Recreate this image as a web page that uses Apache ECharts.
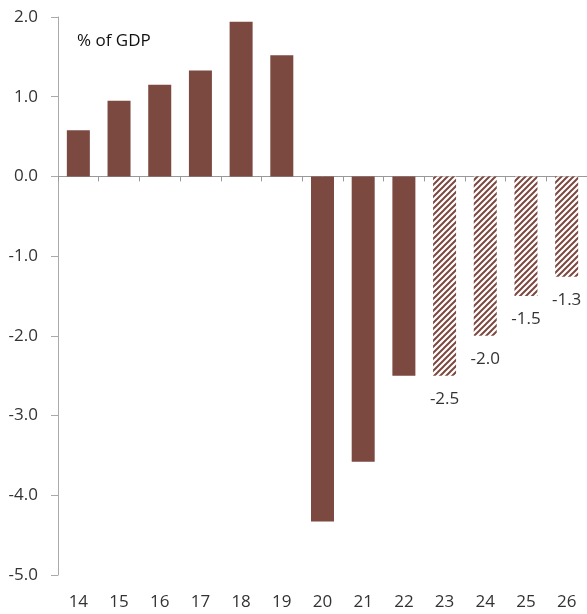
<!DOCTYPE html>
<html>
<head>
<meta charset="utf-8">
<script src="https://cdn.jsdelivr.net/npm/echarts@6/dist/echarts.min.js"></script>
<style>
  html, body { margin: 0; padding: 0; background: #fff; }
  #chart { width: 587px; height: 614px; }
</style>
</head>
<body>
<div id="chart"></div>
<script>
var years = ['14', '15', '16', '17', '18', '19', '20', '21', '22', '23', '24', '25', '26'];
var balance = [0.58, 0.95, 1.15, 1.33, 1.94, 1.52, -4.33, -3.58, -2.5, -2.5, -2.0, -1.5, -1.26];
var forecastFrom = 9; // 23 onward are projections
var yTicks = [2, 1, 0, -1, -2, -3, -4, -5];

var barColor = '#7b4940';

// diagonal hatch for projection bars
function hatch() {
    var c = document.createElement('canvas');
    c.width = 6;
    c.height = 6;
    var ctx = c.getContext('2d');
    ctx.fillStyle = '#fff';
    ctx.fillRect(0, 0, 6, 6);
    ctx.strokeStyle = barColor;
    ctx.lineWidth = 2;
    ctx.beginPath();
    ctx.moveTo(-1, 7); ctx.lineTo(7, -1);
    ctx.moveTo(-4, 4); ctx.lineTo(4, -4);
    ctx.moveTo(2, 10); ctx.lineTo(10, 2);
    ctx.stroke();
    return c;
}
var pattern = { image: hatch(), repeat: 'repeat' };

var data_json = [];
balance.forEach(function (v, i) {
    var item = { value: v };
    if (i >= forecastFrom) {
        item.itemStyle = { color: pattern };
        item.label = {
            show: true,
            position: 'bottom',
            distance: 15,
            fontSize: 17,
            color: '#333',
            fontFamily: 'Open Sans',
            formatter: function (p) { return p.value.toFixed(1); }
        };
    }
    data_json.push(item);
});

var myChart = echarts.init(document.getElementById('chart'));
var option = {
    animation: false,
    textStyle: { fontFamily: 'Open Sans' },
    grid: {
        left: 58,
        right: 0,
        top: 17,
        bottom: 39,
        containLabel: false
    },
    graphic: [{
        type: 'text',
        left: 77,
        top: 33,
        style: {
            text: '% of GDP',
            fontSize: 17,
            fill: '#111',
            fontFamily: 'Open Sans'
        }
    }],
    xAxis: [{
        type: 'category',
        data: years,
        axisLine: { onZero: true, lineStyle: { color: '#999', width: 1 } },
        axisTick: { show: true, length: 5, lineStyle: { color: '#999' } },
        axisLabel: { show: false },
        splitLine: { show: false }
    }, {
        type: 'category',
        data: years,
        position: 'bottom',
        axisLine: { show: false },
        axisTick: { show: false },
        axisLabel: {
            show: true,
            margin: 19,
            fontSize: 17,
            color: '#333'
        }
    }],
    yAxis: [{
        type: 'value',
        min: -5,
        max: 2,
        interval: 1,
        axisLine: { show: true, lineStyle: { color: '#aaa' } },
        axisTick: { show: true, length: 7, lineStyle: { color: '#aaa' } },
        axisLabel: {
            fontSize: 17,
            color: '#333',
            margin: 20,
            formatter: function (v) { return v.toFixed(1); }
        },
        splitLine: { show: false }
    }],
    series: [{
        type: 'bar',
        xAxisIndex: 0,
        barWidth: 23,
        itemStyle: { color: barColor },
        data: data_json
    }]
};
myChart.setOption(option);
</script>
</body>
</html>
